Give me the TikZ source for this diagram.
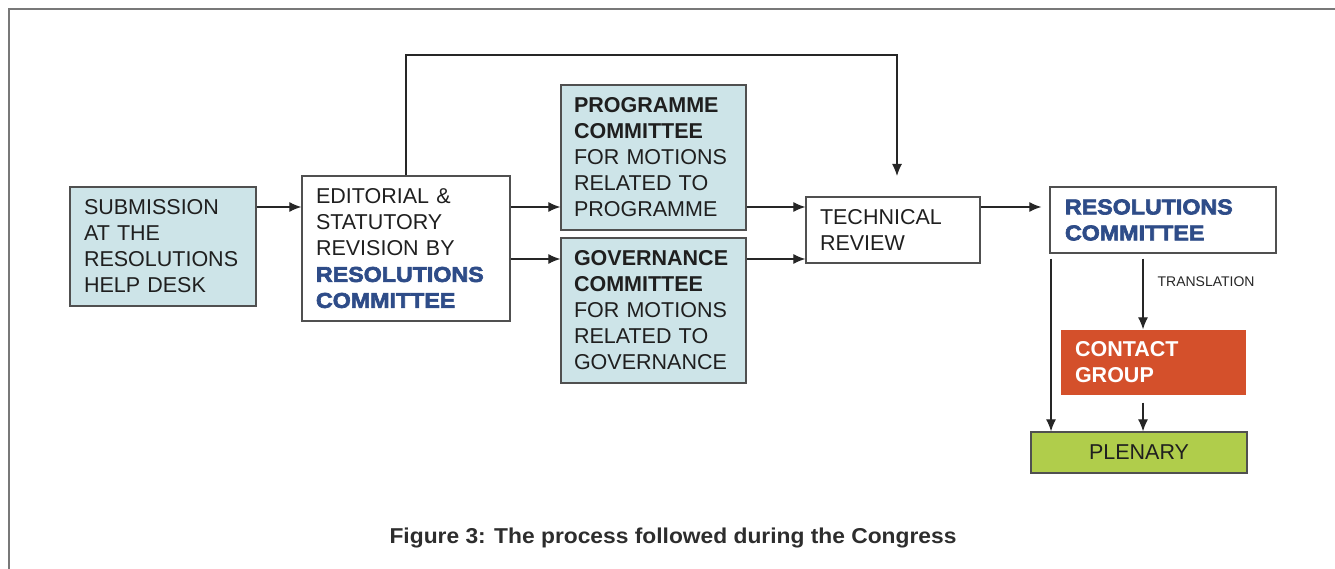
\documentclass[tikz,border=0pt]{standalone}
\usepackage{fontspec}
\setmainfont{Liberation Sans}
\newfontfamily\heavyfont[FakeStretch=1.08,FakeBold=3]{Liberation Sans Bold}
\newfontfamily\capfont[FakeStretch=1.06]{Liberation Sans Bold}
\usetikzlibrary{arrows.meta}

\definecolor{paleblue}{RGB}{205,228,232}
\definecolor{boxline}{RGB}{80,80,80}
\definecolor{resblue}{RGB}{46,76,136}
\definecolor{contactorange}{RGB}{212,80,43}
\definecolor{plenarygreen}{RGB}{176,205,75}
\definecolor{framegray}{RGB}{120,120,120}
\definecolor{captiongray}{RGB}{45,45,45}

\newcommand{\rescomm}{{\heavyfont\color{resblue}RESOLUTIONS\\COMMITTEE}}

\tikzset{
  box/.style={draw=boxline, line width=1.3pt, inner sep=0pt, align=left,
    text=black!88, font=\fontsize{21.5}{26}\selectfont},
  bluebox/.style={box, fill=paleblue},
  arr/.style={-{Latex[length=12pt,width=10pt]}, line width=1.2pt, black!85}
}

\begin{document}
\begin{tikzpicture}[x=1pt, y=-1pt]
	\useasboundingbox (0,0) rectangle (1335,569);
	\draw[framegray, line width=2pt] (9,569) -- (9,9) -- (1335,9);

	\node[bluebox, minimum width=186pt, minimum height=119pt, text width=158pt] (subm) at (163,246.5)
		{SUBMISSION\\AT THE\\RESOLUTIONS\\HELP DESK};
	\node[box, minimum width=208pt, minimum height=145pt, text width=180pt] (edit) at (406,248.5)
		{EDITORIAL \&\\STATUTORY\\REVISION BY\\\rescomm};
	\node[bluebox, minimum width=185pt, minimum height=145pt, text width=159pt] (prog) at (653.5,157.5)
		{\textbf{PROGRAMME}\\\textbf{COMMITTEE}\\FOR MOTIONS\\RELATED TO\\PROGRAMME};
	\node[bluebox, minimum width=185pt, minimum height=145pt, text width=159pt] (gov) at (653.5,310.5)
		{\textbf{GOVERNANCE}\\\textbf{COMMITTEE}\\FOR MOTIONS\\RELATED TO\\GOVERNANCE};
	\node[box, minimum width=174pt, minimum height=66pt, text width=146pt] (tech) at (893,230)
		{TECHNICAL\\REVIEW};
	\node[box, minimum width=226pt, minimum height=66pt, text width=196pt] (resol) at (1163,220)
		{\rescomm};
	\node[box, draw=none, fill=contactorange, text=white, minimum width=185pt, minimum height=65pt, text width=157pt] (contact) at (1153.5,362.5)
		{\textbf{CONTACT}\\\textbf{GROUP}};
	\node[box, fill=plenarygreen, align=center, minimum width=216pt, minimum height=41pt] (plen) at (1139,452.5)
		{PLENARY};

	\node[text=captiongray, font=\capfont\fontsize{21.5}{25}\selectfont] (caption) at (673,538)
		{Figure 3: The process followed during the Congress};

	\coordinate (row1) at (0,207);
	\coordinate (row2) at (0,259);
	\coordinate (bend) at (897,55);
	\coordinate (drop) at (897,176);
	\coordinate (tr) at (1143,0);
	\coordinate (pl) at (1051,0);

	\draw[arr] (subm.east |- row1) -- (edit.west |- row1);
	\draw[arr] (edit.east |- row1) -- (prog.west |- row1);
	\draw[arr] (edit.east |- row2) -- (gov.west |- row2);
	\draw[arr] (prog.east |- row1) -- (tech.west |- row1);
	\draw[arr] (gov.east |- row2) -- (tech.west |- row2);
	\draw[arr] (edit.north) |- (bend) -- (drop);
	\draw[arr, shorten >=8pt] (tech.east |- row1) -- (resol.west |- row1);
	\draw[arr, shorten <=5pt] (resol.south -| tr) --
		node[pos=0.375, anchor=west, xshift=14pt, inner sep=0pt, font=\fontsize{14}{16}\selectfont, text=black!85] (transl) {TRANSLATION}
		(contact.north -| tr);
	\draw[arr, shorten <=5pt] (resol.south -| pl) -- (plen.north -| pl);
	\draw[arr, shorten <=7pt] (contact.south -| tr) -- (plen.north -| tr);
\end{tikzpicture}
\end{document}
